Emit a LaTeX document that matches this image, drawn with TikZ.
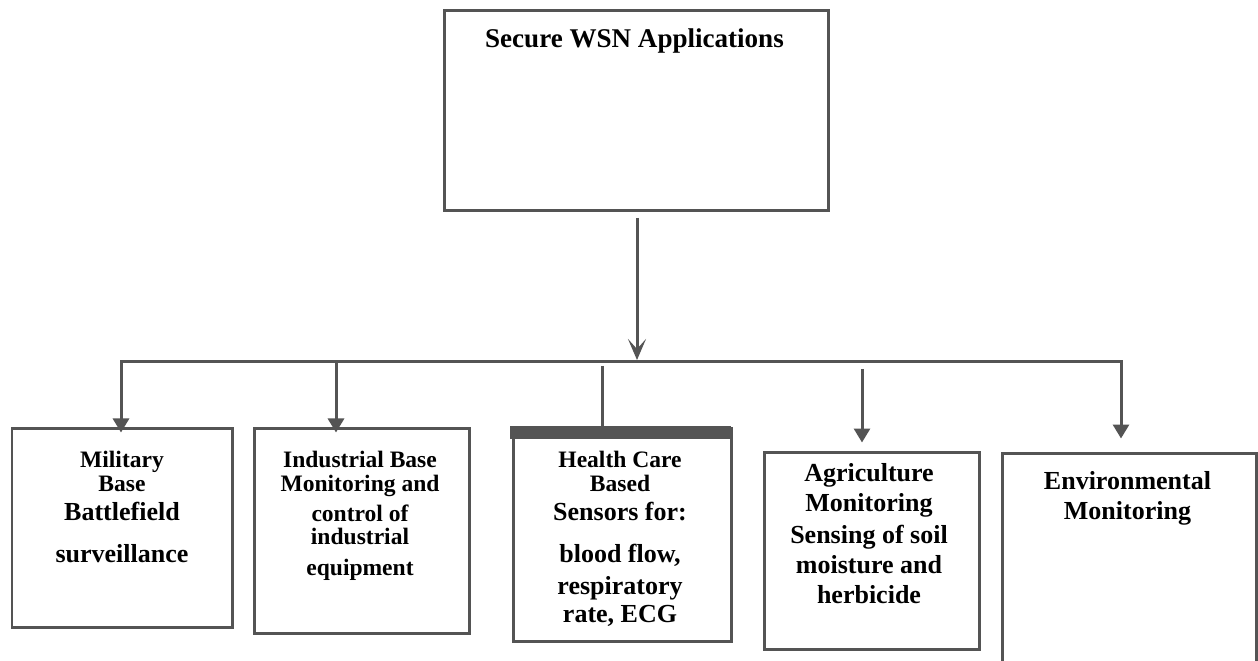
\documentclass[tikz,border=0pt]{standalone}
\usepackage{fontspec}
\setmainfont{Liberation Serif}
\usetikzlibrary{arrows.meta,fit}
\definecolor{lineg}{RGB}{84,84,84}
\tikzset{
  box/.style={draw=lineg, line width=0.06cm, inner sep=0pt, rectangle},
  conn/.style={draw=lineg, line width=0.06cm},
  tri/.style={conn, -{Triangle[width=0.32cm,length=0.28cm]}},
  big/.style={anchor=base, inner sep=0pt, font=\fontsize{14.8pt}{17pt}\selectfont\bfseries},
  small/.style={anchor=base, inner sep=0pt, font=\fontsize{13.4pt}{16pt}\selectfont\bfseries},
  title/.style={anchor=base, inner sep=0pt, font=\fontsize{15.4pt}{18pt}\selectfont\bfseries}
}
\begin{document}
\begin{tikzpicture}[x=0.02cm, y=-0.02cm]
\clip (0,0) rectangle (1258,661);
\fill[white] (0,0) rectangle (1258,661);

% root box
\node[box, line cap=round, fit={(444,11) (828,211)}] (root) {};
\node[title] (rootT) at (634.5,48) {Secure WSN Applications};

% application boxes
\node[box, fit={(12,429) (232,628)}] (b1) {};
\node[box, fit={(254,429) (469,634)}] (b2) {};
\node[box, fit={(513,429) (731,642)}] (b3) {};
\node[box, fit={(764,453) (979,650)}] (b4) {};
\node[box, fit={(1002,454) (1256,720)}] (b5) {};

% distribution bus
\coordinate (busL) at (120,362);
\coordinate (busR) at (1123,362);
\coordinate (top) at (637,218);
\coordinate (hub) at (637,360);
\coordinate (j1) at (121,362);
\coordinate (j2) at (336,362);
\coordinate (j3) at (602,366);
\coordinate (j4) at (862,369);
\coordinate (j5) at (1121,362);

\draw[conn] (busL) -- (busR);
\draw[conn, -{Stealth[width=0.36cm,length=0.42cm,inset=0.2cm]}] (top) -- (hub);

\draw[tri, shorten >=-0.1cm] (j1) -- (j1 |- b1.north);
\draw[tri, shorten >=-0.1cm] (j2) -- (j2 |- b2.north);
\draw[conn] (j3) -- (j3 |- b3.north);
\draw[tri, shorten >=0.18cm] (j4) -- (j4 |- b4.north);
\draw[tri, shorten >=0.28cm] (j5) -- (j5 |- b5.north);

% header bar of the health care box
\fill[lineg] ([shift={(-1.5,-1.5)}]b3.north west) rectangle ([shift={(-2,12)}]b3.north east);

% Military
\node[small] (m1) at (122,468) {Military};
\node[small] (m2) at (122,492) {Base};
\node[big]   (m3) at (122,521) {Battlefield};
\node[big]   (m4) at (122,563) {surveillance};

% Industrial
\node[small] (i1) at (360,468) {Industrial Base};
\node[small] (i2) at (360,492) {Monitoring and};
\node[small] (i3) at (360,522) {control of};
\node[small] (i4) at (360,545) {industrial};
\node[small] (i5) at (360,576) {equipment};

% Health care
\node[small] (h1) at (620,468) {Health Care};
\node[small] (h2) at (620,492) {Based};
\node[big]   (h3) at (620,521) {Sensors for:};
\node[big]   (h4) at (620,563) {blood flow,};
\node[big]   (h5) at (620,595) {respiratory};
\node[big]   (h6) at (620,623) {rate, ECG};

% Agriculture
\node[big] (g1) at (869,482) {Agriculture};
\node[big] (g2) at (869,512) {Monitoring};
\node[big] (g3) at (869,544) {Sensing of soil};
\node[big] (g4) at (869,574) {moisture and};
\node[big] (g5) at (869,604) {herbicide};

% Environmental
\node[big] (e1) at (1127.5,490) {Environmental};
\node[big] (e2) at (1127.5,520) {Monitoring};
\end{tikzpicture}
\end{document}
